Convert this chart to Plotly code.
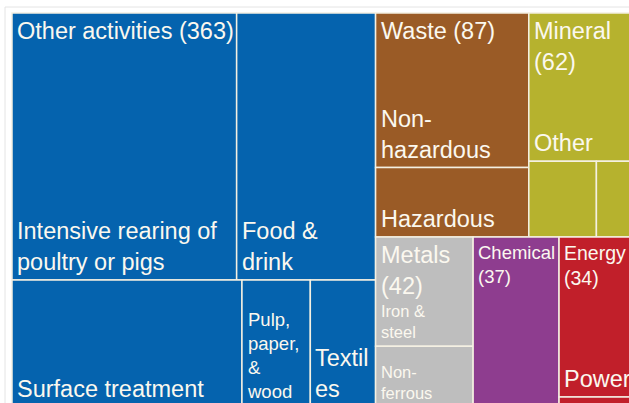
import plotly.graph_objects as go

# top-level sectors (count of installations)
groups = ["Other activities", "Waste", "Mineral", "Metals", "Chemical", "Energy"]
group_counts = [363, 87, 62, 42, 37, 34]

# sub-sectors, values
other_labels = ["Intensive rearing of poultry or pigs", "Food & drink",
                "Surface treatment", "Pulp, paper, & wood", "Textiles"]
other_values = [152, 94, 74, 22, 21]
waste_labels = ["Non-hazardous", "Hazardous"]
waste_values = [60, 27]
mineral_labels = ["Other", "", ""]
mineral_values = [41, 13, 8]
metals_labels = ["Iron & steel", "Non-ferrous"]
metals_values = [27, 15]
chemical_labels = [""]
chemical_values = [37]
energy_labels = ["Power", ""]
energy_values = [32, 2]

sub_labels = [other_labels, waste_labels, mineral_labels,
              metals_labels, chemical_labels, energy_labels]
sub_values = [other_values, waste_values, mineral_values,
              metals_values, chemical_values, energy_values]

# how the cells are stacked: "h" = side by side, "v" = on top of each other
top_arrangement = ("h", [0, ("v", [("h", [1, 2]), ("h", [3, 4, 5])])])
sub_arrangement = [
    ("v", [("h", [0, 1]), ("h", [2, 3, 4])]),
    ("v", [0, 1]),
    ("v", [0, ("h", [1, 2])]),
    ("v", [0, 1]),
    0,
    ("v", [0, 1]),
]

COLORS = ["#0563ae", "#9a5b26", "#b6b22e", "#bebebe", "#8e3d8f", "#c11f2a"]
BORDER = "#f4f0e2"
TEXT = "#fbf8ef"
FONT = "Liberation Sans, Arial, sans-serif"

# display text (wrapping as in the picture) and font sizes
group_text = {"Mineral": "Mineral<br>(62)", "Metals": "Metals<br>(42)",
              "Chemical": "Chemical<br>(37)", "Energy": "Energy<br>(34)"}
group_size = {"Chemical": 18.5, "Energy": 19.5}
leaf_text = {"Intensive rearing of poultry or pigs": "Intensive rearing of<br>poultry or pigs",
             "Food & drink": "Food &<br>drink",
             "Pulp, paper, & wood": "Pulp,<br>paper,<br>&<br>wood",
             "Textiles": "Textil<br>es",
             "Non-hazardous": "Non-<br>hazardous",
             "Iron & steel": "Iron &<br>steel",
             "Non-ferrous": "Non-<br>ferrous"}
leaf_size = {"Pulp, paper, & wood": 18.5, "Iron & steel": 16.5, "Non-ferrous": 16.5}
BIG = 23.5


def node_value(node, values):
    if isinstance(node, int):
        return values[node]
    return sum(node_value(c, values) for c in node[1])


def place(node, values, x0, y0, x1, y1, out):
    """Split the rectangle proportionally to the values."""
    if isinstance(node, int):
        out[node] = (x0, y0, x1, y1)
        return
    direction, kids = node
    total = node_value(node, values)
    pos = x0 if direction == "h" else y0
    for kid in kids:
        frac = node_value(kid, values) / total
        if direction == "h":
            step = (x1 - x0) * frac
            place(kid, values, pos, y0, pos + step, y1, out)
        else:
            step = (y1 - y0) * frac
            place(kid, values, x0, pos, x1, pos + step, out)
        pos += step


fig = go.Figure()

group_rects = {}
place(top_arrangement, group_counts, 0.0, 0.0, 1.0, 1.0, group_rects)

for gi, name in enumerate(groups):
    gx0, gy0, gx1, gy1 = group_rects[gi]
    cells = {}
    place(sub_arrangement[gi], sub_values[gi], gx0, gy0, gx1, gy1, cells)
    for ci, label in enumerate(sub_labels[gi]):
        x0, y0, x1, y1 = cells[ci]
        fig.add_shape(type="rect", xref="x", yref="y", x0=x0, y0=y0, x1=x1, y1=y1,
                      fillcolor=COLORS[gi], line=dict(color=BORDER, width=1.5),
                      layer="below")
        if label:
            fig.add_annotation(x=x0, y=y1, xref="x", yref="y",
                               text=leaf_text.get(label, label),
                               xanchor="left", yanchor="bottom", align="left",
                               xshift=3, yshift=3, showarrow=False,
                               font=dict(family=FONT, size=leaf_size.get(label, BIG), color=TEXT))
    fig.add_annotation(x=gx0, y=gy0, xref="x", yref="y",
                       text=group_text.get(name, f"{name} ({group_counts[gi]})"),
                       xanchor="left", yanchor="top", align="left",
                       xshift=3, yshift=-3, showarrow=False,
                       font=dict(family=FONT, size=group_size.get(name, BIG), color=TEXT))

# the treemap spans 12..638 px across and 13..407 px down; the figure is a bit
# larger than the 629x403 window, which crops it like the reference
FIG_W, FIG_H = 642, 412
W_PX, H_PX = 626, 394
LEFT, TOP = 12, 13

# faint slide frame
fig.add_shape(type="rect", xref="paper", yref="paper",
              x0=5 / FIG_W, y0=-0.1, x1=1.1, y1=1 - 7 / FIG_H,
              line=dict(color="#e4e4e4", width=1), fillcolor="rgba(0,0,0,0)", layer="below")

fig.update_xaxes(range=[-LEFT / W_PX, (FIG_W - LEFT) / W_PX], visible=False, fixedrange=True)
fig.update_yaxes(range=[(FIG_H - TOP) / H_PX, -TOP / H_PX], visible=False, fixedrange=True)

fig.update_layout(
    width=FIG_W, height=FIG_H,
    margin=dict(l=0, r=0, t=0, b=0),
    paper_bgcolor="white", plot_bgcolor="white",
    showlegend=False, hovermode=False,
)

fig.write_html("out.html", config={"displayModeBar": False},
               post_script="document.body.style.margin='0';document.body.style.overflow='hidden';")
